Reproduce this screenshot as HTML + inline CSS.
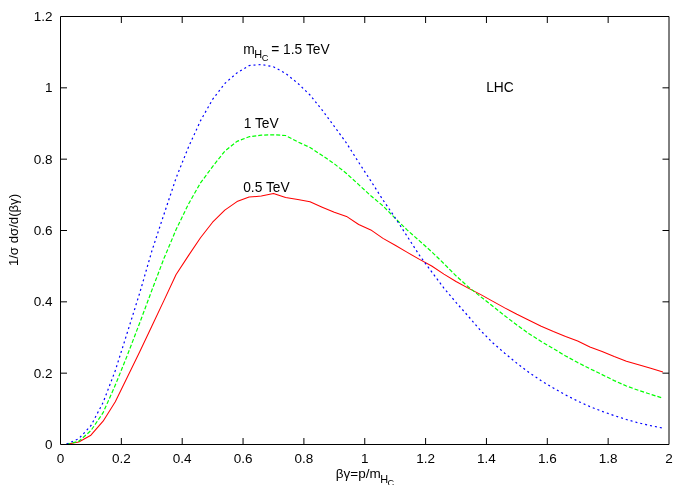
<!DOCTYPE html>
<html><head><meta charset="utf-8"><title>plot</title>
<style>
html,body{margin:0;padding:0;background:#fff;}
svg{display:block;}
text{font-family:"Liberation Sans",sans-serif;font-size:13.8px;fill:#000;}
</style></head><body>
<svg width="692" height="485" viewBox="0 0 692 485">
<rect width="692" height="485" fill="#fff"/>
<g fill="none" stroke-linejoin="round">
<path d="M66.6,444.2 L78.8,442.0 L90.9,435.2 L103.1,421.2 L115.3,401.8 L127.4,376.9 L139.6,351.9 L151.8,326.2 L163.9,300.6 L176.1,274.5 L188.3,255.9 L200.5,237.8 L212.6,222.2 L224.8,210.1 L237.0,201.6 L249.1,197.1 L261.3,196.0 L273.5,193.4 L285.6,197.5 L297.8,199.5 L310.0,201.8 L322.2,207.2 L334.3,212.3 L346.5,216.4 L358.7,224.5 L370.8,229.9 L383.0,238.4 L395.2,245.3 L407.3,252.4 L419.5,259.4 L431.7,266.0 L443.9,274.1 L456.0,281.5 L468.2,288.1 L480.4,294.4 L492.5,301.1 L504.7,307.9 L516.9,314.3 L529.0,320.2 L541.2,326.2 L553.4,331.6 L565.6,336.5 L577.7,341.0 L589.9,347.0 L602.1,351.4 L614.2,356.5 L626.4,361.2 L638.6,364.7 L650.7,368.3 L662.9,372.1" stroke="#ff0000" stroke-width="1.05"/>
<path d="M66.6,444.2 L78.8,441.3 L90.9,430.6 L103.1,412.7 L115.3,385.1 L127.4,355.1 L139.6,323.2 L151.8,290.4 L163.9,258.6 L176.1,229.6 L188.3,204.4 L200.5,182.9 L212.6,166.6 L224.8,151.2 L237.0,141.4 L249.1,136.7 L261.3,135.2 L273.5,134.8 L285.6,135.5 L297.8,141.9 L310.0,147.5 L322.2,155.5 L334.3,163.8 L346.5,173.5 L358.7,184.6 L370.8,195.8 L383.0,205.9 L395.2,218.3 L407.3,230.1 L419.5,240.9 L431.7,251.8 L443.9,263.6 L456.0,275.8 L468.2,286.8 L480.4,296.5 L492.5,306.0 L504.7,315.7 L516.9,325.0 L529.0,333.7 L541.2,341.5 L553.4,348.7 L565.6,355.9 L577.7,362.6 L589.9,368.7 L602.1,374.6 L614.2,380.6 L626.4,386.0 L638.6,390.4 L650.7,394.3 L662.9,398.2" stroke="#00ff00" stroke-width="1.2" stroke-dasharray="4 2"/>
<path d="M66.6,444.0 L78.8,438.7 L90.9,425.7 L103.1,402.5 L115.3,370.6 L127.4,332.3 L139.6,293.4 L151.8,251.2 L163.9,214.5 L176.1,177.9 L188.3,147.5 L200.5,120.8 L212.6,99.4 L224.8,83.5 L237.0,72.9 L249.1,65.6 L261.3,64.5 L273.5,66.8 L285.6,73.4 L297.8,83.3 L310.0,95.0 L322.2,110.1 L334.3,126.4 L346.5,143.1 L358.7,162.4 L370.8,180.9 L383.0,200.0 L395.2,217.8 L407.3,236.5 L419.5,255.4 L431.7,271.9 L443.9,288.1 L456.0,302.4 L468.2,316.1 L480.4,330.3 L492.5,342.6 L504.7,353.2 L516.9,363.2 L529.0,372.5 L541.2,380.7 L553.4,388.1 L565.6,394.9 L577.7,401.1 L589.9,406.6 L602.1,411.4 L614.2,415.6 L626.4,419.5 L638.6,422.9 L650.7,425.7 L662.9,428.1" stroke="#0000ff" stroke-width="1.2" stroke-dasharray="2 3"/>
</g>
<g fill="none" stroke="#000" stroke-width="1">
<path d="M60.5,16.5 H669.0 V444.5 H60.5 Z"/>
<path d="M121.35,444.5 v-6.5 M121.35,16.5 v6.5"/><path d="M182.20,444.5 v-6.5 M182.20,16.5 v6.5"/><path d="M243.05,444.5 v-6.5 M243.05,16.5 v6.5"/><path d="M303.90,444.5 v-6.5 M303.90,16.5 v6.5"/><path d="M364.75,444.5 v-6.5 M364.75,16.5 v6.5"/><path d="M425.60,444.5 v-6.5 M425.60,16.5 v6.5"/><path d="M486.45,444.5 v-6.5 M486.45,16.5 v6.5"/><path d="M547.30,444.5 v-6.5 M547.30,16.5 v6.5"/><path d="M608.15,444.5 v-6.5 M608.15,16.5 v6.5"/><path d="M60.5,373.17 h6.5 M669.0,373.17 h-6.5"/><path d="M60.5,301.83 h6.5 M669.0,301.83 h-6.5"/><path d="M60.5,230.50 h6.5 M669.0,230.50 h-6.5"/><path d="M60.5,159.17 h6.5 M669.0,159.17 h-6.5"/><path d="M60.5,87.83 h6.5 M669.0,87.83 h-6.5"/>
</g>
<g id="T" opacity="0.999">
<text x="60.5" y="462.6" text-anchor="middle" style="font-size:13.5px">0</text><text x="121.3" y="462.6" text-anchor="middle" style="font-size:13.5px">0.2</text><text x="182.2" y="462.6" text-anchor="middle" style="font-size:13.5px">0.4</text><text x="243.1" y="462.6" text-anchor="middle" style="font-size:13.5px">0.6</text><text x="303.9" y="462.6" text-anchor="middle" style="font-size:13.5px">0.8</text><text x="364.8" y="462.6" text-anchor="middle" style="font-size:13.5px">1</text><text x="425.6" y="462.6" text-anchor="middle" style="font-size:13.5px">1.2</text><text x="486.4" y="462.6" text-anchor="middle" style="font-size:13.5px">1.4</text><text x="547.3" y="462.6" text-anchor="middle" style="font-size:13.5px">1.6</text><text x="608.1" y="462.6" text-anchor="middle" style="font-size:13.5px">1.8</text><text x="669.0" y="462.6" text-anchor="middle" style="font-size:13.5px">2</text>
<text x="52.5" y="449.1" text-anchor="end" style="font-size:13.5px">0</text><text x="52.5" y="377.8" text-anchor="end" style="font-size:13.5px">0.2</text><text x="52.5" y="306.4" text-anchor="end" style="font-size:13.5px">0.4</text><text x="52.5" y="235.1" text-anchor="end" style="font-size:13.5px">0.6</text><text x="52.5" y="163.8" text-anchor="end" style="font-size:13.5px">0.8</text><text x="52.5" y="92.4" text-anchor="end" style="font-size:13.5px">1</text><text x="52.5" y="21.1" text-anchor="end" style="font-size:13.5px">1.2</text>
<text x="243.2" y="53.8">m<tspan font-size="10.9" dy="4.3" dx="-0.4">H</tspan><tspan font-size="9.3" dy="3.3" dx="-0.5">C</tspan><tspan dy="-7.6" dx="-1"> = 1.5 TeV</tspan></text>
<text x="243.7" y="128">1 TeV</text>
<text x="243.2" y="191.8">0.5 TeV</text>
<text x="486.2" y="92.1">LHC</text>
<text x="365" y="478.4" text-anchor="middle" style="font-size:13.5px">βγ=p/m<tspan font-size="10.9" dy="4.3" dx="-0.5">H</tspan><tspan font-size="9.2" dy="3.4" dx="-0.5">C</tspan></text>
<text transform="translate(18,230) rotate(-90)" text-anchor="middle" style="font-size:13.2px">1/σ dσ/d(βγ)</text>
</g>
</svg>
</body></html>
